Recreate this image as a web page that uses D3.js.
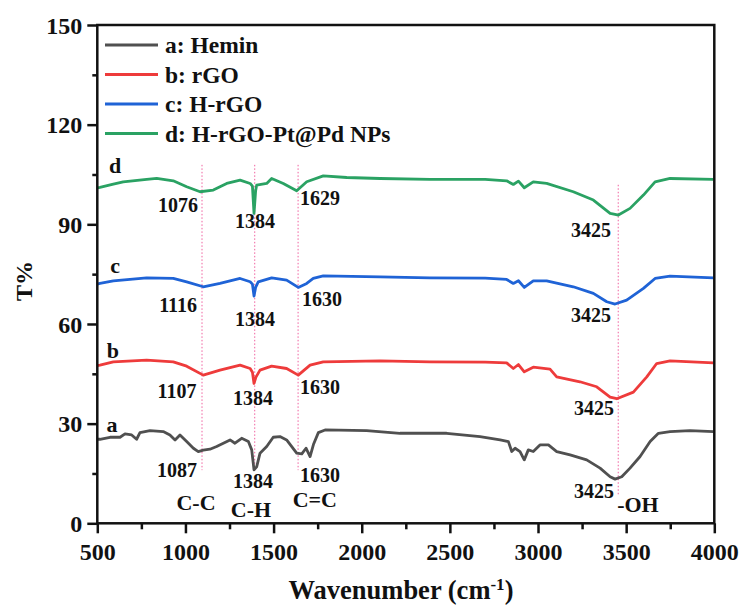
<!DOCTYPE html>
<html><head><meta charset="utf-8">
<script src="https://cdn.jsdelivr.net/npm/d3@7"></script>
<style>
html,body{margin:0;padding:0;background:#fff;}
text{font-family:"Liberation Serif","Times New Roman",serif;font-weight:bold;fill:#111;}
</style></head>
<body><svg id="chart" width="744" height="609"></svg>
<script>
// ---- data ----
const seriesNames = ["a: Hemin", "b: rGO", "c: H-rGO", "d: H-rGO-Pt@Pd NPs"];
const seriesColors = ["#505050", "#ee3b3b", "#1f63d6", "#2aa263"];
const xTicks = [500, 1000, 1500, 2000, 2500, 3000, 3500, 4000];
const yTicks = [0, 30, 60, 90, 120, 150];

const hemin = [[500,25.3],[515,25.3],[572,25.9],[629,25.9],[657,26.9],[695,26.6],[723,25.3],[742,27.3],[799,27.9],[874,27.6],[912,26.6],[941,25.1],[969,26.6],[1007,24.6],[1045,22.6],[1073,21.6],[1101,22],[1139,22.3],[1177,23.1],[1215,24.1],[1253,25.1],[1281,24.1],[1319,25.6],[1357,24.6],[1376,22.1],[1389,16.1],[1404,17],[1423,21.1],[1461,23.1],[1498,25.9],[1536,26.1],[1574,25.1],[1603,23.1],[1631,21.1],[1660,20.9],[1684,22.6],[1707,20.1],[1726,23.7],[1754,27.3],[1792,28.1],[2028,27.9],[2217,27.1],[2482,27.1],[2671,26.1],[2785,25.1],[2832,24.6],[2851,21.6],[2870,22.6],[2898,21.6],[2922,19.1],[2945,22.1],[2973,21.6],[3011,23.6],[3059,23.6],[3106,21.6],[3182,20.6],[3276,19.1],[3352,16.6],[3409,14],[3437,13.3],[3475,14],[3522,16.6],[3579,20.1],[3636,24.6],[3683,27.1],[3749,27.6],[3862,27.9],[3995,27.6]];
const rGO = [[500,47.5],[515,47.6],[591,48.6],[780,49.1],[931,48.6],[1007,47.3],[1101,44.6],[1196,46.1],[1310,47.6],[1367,46.6],[1380,45.5],[1389,42.1],[1400,44],[1423,46.1],[1489,47.3],[1574,46.6],[1640,44.6],[1707,47.6],[1782,48.6],[2104,48.9],[2387,48.6],[2700,48.5],[2822,48.3],[2860,46.6],[2889,47.8],[2922,45.6],[2973,47],[3068,46.4],[3106,44.1],[3238,42.6],[3333,41.1],[3409,38],[3447,37.5],[3541,39.5],[3617,44.1],[3673,48.1],[3749,48.9],[3995,48.3]];
const HrGO = [[500,72],[515,72.2],[591,73],[780,73.9],[931,73.7],[1007,72.7],[1101,71.2],[1196,72.2],[1310,73.7],[1367,72.7],[1380,72],[1389,68.4],[1398,71],[1413,72.7],[1489,73.9],[1574,73.2],[1640,71],[1688,72.2],[1725,73.7],[1782,74.5],[2104,74.2],[2387,73.9],[2700,73.8],[2822,73.4],[2860,72.2],[2889,73],[2922,71],[2973,73],[3049,73],[3200,71.2],[3314,69.2],[3390,66.7],[3437,66],[3503,67.2],[3598,70.7],[3664,73.7],[3749,74.4],[3995,73.9]];
const HrGOPtPd = [[500,101],[515,101.1],[591,102.1],[647,102.8],[780,103.5],[837,103.8],[931,103.1],[1007,101.3],[1083,99.8],[1158,100.3],[1234,102.3],[1310,103.3],[1367,102.3],[1380,101.5],[1389,93.3],[1398,100],[1404,101.8],[1461,102.3],[1489,103.8],[1555,102.3],[1631,100.1],[1688,102.8],[1782,104.6],[1915,104.1],[2104,103.8],[2387,103.5],[2700,103.5],[2822,103.1],[2860,102],[2889,103],[2922,101],[2973,102.8],[3049,102.3],[3200,99.8],[3314,97.3],[3409,93.3],[3437,93],[3456,92.8],[3522,94.8],[3598,98.8],[3664,102.8],[3749,103.8],[3995,103.5]];
const allSeries = [hemin, rGO, HrGO, HrGOPtPd];

// guide lines: wavenumber, from T%, to T%
const guideX = [1094, 1393, 1639, 3455];
const guideTop = [107.9, 107.9, 107.9, 101.9];
const guideBottom = [16, 16, 16, 8.5];

// annotations: text, wavenumber, T%
const peakLabels = ["1076","1384","1629","3425","1116","1384","1630","3425","1107","1384","1630","3425","1087","1384","1630","3425"];
const peakX = [958,1395,1763,3301,958,1395,1775,3301,952,1383,1763,3318,952,1383,1763,3318];
const peakY = [93.8,88.9,95.9,86.2,63.6,59.5,65.4,60.6,37.7,35.6,39,32.6,13.9,10.6,12.4,7.6];
const bondLabels = ["C-C","C-H","C=C","-OH"];
const bondX = [1060,1372,1734,3567];
const bondY = [4.0,1.9,4.9,3.4];
const curveLetters = ["a","b","c","d"];
const letterX = [583,589,601,601];
const letterY = [27.5,49.8,75.4,105.5];

// ---- drawing ----
const svg = d3.select("#chart");
const L = 97.3, R = 714.3, T = 25, B = 523.3;
const x = d3.scaleLinear().domain([500, 4000]).range([L, R]);
const y = d3.scaleLinear().domain([0, 150]).range([B, T]);
const serif = "'Liberation Serif','Times New Roman',serif";

// minor ticks
const xMinor = d3.range(750, 4000, 500);
const yMinor = d3.range(15, 150, 30);
svg.append("g").attr("transform", `translate(0,${B})`)
  .call(d3.axisBottom(x).tickValues(xMinor).tickSize(6).tickFormat(""))
  .call(g => g.select(".domain").remove())
  .call(g => g.selectAll("line").attr("stroke","#111").attr("stroke-width",2.5));
svg.append("g").attr("transform", `translate(${L},0)`)
  .call(d3.axisLeft(y).tickValues(yMinor).tickSize(5).tickFormat(""))
  .call(g => g.select(".domain").remove())
  .call(g => g.selectAll("line").attr("stroke","#111").attr("stroke-width",2.5));

const xAxis = svg.append("g").attr("transform", `translate(0,${B})`)
  .call(d3.axisBottom(x).tickValues(xTicks).tickSize(10).tickFormat(d3.format("d")));
xAxis.select(".domain").remove();
xAxis.selectAll("line").attr("stroke","#111").attr("stroke-width",2.5);
xAxis.selectAll("text").attr("font-size",24).attr("fill","#111").attr("y",37).attr("dy",0)
  .style("font-family",serif).style("font-weight","bold");

const yAxis = svg.append("g").attr("transform", `translate(${L},0)`)
  .call(d3.axisLeft(y).tickValues(yTicks).tickSize(10).tickPadding(5));
yAxis.select(".domain").remove();
yAxis.selectAll("line").attr("stroke","#111").attr("stroke-width",2.5);
yAxis.selectAll("text").attr("font-size",24).attr("fill","#111").attr("dy","0.34em")
  .style("font-family",serif).style("font-weight","bold");

// guide lines
svg.append("g").selectAll("line").data(guideX).join("line")
  .attr("x1", d => x(d)).attr("x2", d => x(d))
  .attr("y1", (d,i) => y(guideTop[i])).attr("y2", (d,i) => y(guideBottom[i]))
  .attr("stroke","#f0609f").attr("stroke-width",1).attr("stroke-dasharray","1.5,2");

// curves
const line = d3.line().x(d => x(d[0])).y(d => y(d[1]));
svg.append("g").selectAll("path").data(allSeries).join("path")
  .attr("d", line).attr("fill","none")
  .attr("stroke", (d,i) => seriesColors[i]).attr("stroke-width",2.8)
  .attr("stroke-linejoin","round");

// frame
svg.append("rect").attr("x",L).attr("y",T).attr("width",R-L).attr("height",B-T)
  .attr("fill","none").attr("stroke","#111").attr("stroke-width",2.5);

// annotations
svg.append("g").selectAll("text").data(peakLabels).join("text")
  .attr("x",(d,i)=>x(peakX[i])).attr("y",(d,i)=>y(peakY[i]))
  .attr("text-anchor","middle").attr("font-size",20).text(d=>d);
svg.append("g").selectAll("text").data(bondLabels).join("text")
  .attr("x",(d,i)=>x(bondX[i])).attr("y",(d,i)=>y(bondY[i]))
  .attr("text-anchor","middle").attr("font-size",22).text(d=>d);
svg.append("g").selectAll("text").data(curveLetters).join("text")
  .attr("x",(d,i)=>x(letterX[i])).attr("y",(d,i)=>y(letterY[i]))
  .attr("text-anchor","middle").attr("font-size",22).text(d=>d);

// legend
const leg = svg.append("g");
seriesNames.forEach((n,i) => {
  const yy = 45 + i*29.5;
  leg.append("line").attr("x1",105).attr("x2",158).attr("y1",yy).attr("y2",yy)
    .attr("stroke",seriesColors[i]).attr("stroke-width",3);
  leg.append("text").attr("x",165).attr("y",yy).attr("dy","0.35em")
    .attr("font-size",23.5).text(n);
});

// axis titles
svg.append("text").attr("x",401).attr("y",599).attr("text-anchor","middle")
  .attr("font-size",26.5)
  .html('Wavenumber (cm<tspan baseline-shift="super" font-size="17">-1</tspan>)');
svg.append("text").attr("transform","translate(32,281) rotate(-90)")
  .attr("text-anchor","middle").attr("font-size",24).text("T%");
</script></body></html>
